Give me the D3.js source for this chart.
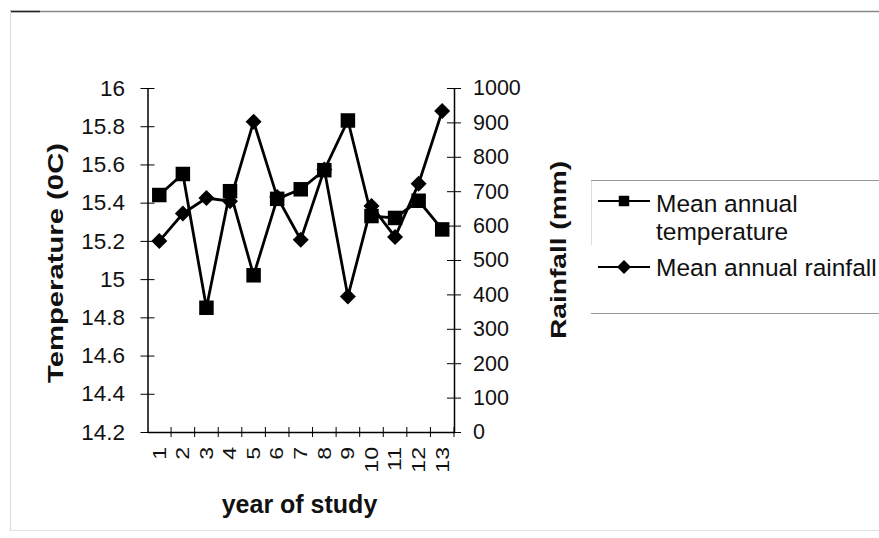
<!DOCTYPE html>
<html>
<head>
<meta charset="utf-8">
<script src="https://cdn.jsdelivr.net/npm/d3@7/dist/d3.min.js"></script>
<style>
  html, body { margin: 0; padding: 0; background: #fff; }
  svg { display: block; font-family: Arial, "Liberation Sans", sans-serif; }
</style>
</head>
<body>
<svg id="chart" width="879" height="538"></svg>
<script>
// Years of study
const years = [1, 2, 3, 4, 5, 6, 7, 8, 9, 10, 11, 12, 13];
// Mean annual temperature (°C)
const temperature = [15.44, 15.55, 14.85, 15.46, 15.02, 15.42, 15.47, 15.57, 15.83, 15.33, 15.32, 15.41, 15.26];
// Mean annual rainfall (mm)
const rainfall = [555, 635, 680, 671, 902, 683, 559, 763, 394, 657, 567, 722, 933];
// Axis ticks
const tempTicks = [14.2, 14.4, 14.6, 14.8, 15, 15.2, 15.4, 15.6, 15.8, 16];
const rainTicks = [0, 100, 200, 300, 400, 500, 600, 700, 800, 900, 1000];

const svg = d3.select("#chart");
const plot = { left: 147.5, right: 454, top: 88, bottom: 432 };
const ink = "#111";

// Outer chart frame (partially visible edges)
svg.append("line").attr("x1", 10).attr("x2", 879).attr("y1", 11.5).attr("y2", 11.5)
  .attr("stroke", "#8a8a8a").attr("stroke-width", 1.5);
svg.append("line").attr("x1", 10).attr("x2", 40).attr("y1", 11.5).attr("y2", 11.5)
  .attr("stroke", "#222").attr("stroke-width", 1.5);
svg.append("line").attr("x1", 10.5).attr("x2", 10.5).attr("y1", 11).attr("y2", 530)
  .attr("stroke", "#d8d8d8").attr("stroke-width", 1);
svg.append("line").attr("x1", 10).attr("x2", 879).attr("y1", 530.5).attr("y2", 530.5)
  .attr("stroke", "#e2e2e2").attr("stroke-width", 1);

const x = d3.scaleBand().domain(years).range([plot.left, plot.right]);
const yT = d3.scaleLinear().domain([14.2, 16]).range([plot.bottom, plot.top]);
const yR = d3.scaleLinear().domain([0, 1000]).range([plot.bottom, plot.top]);
const cx = d => x(d) + x.bandwidth() / 2;

// Left axis (temperature)
const leftAxis = d3.axisLeft(yT).tickValues(tempTicks).tickFormat(d3.format("")).tickSizeInner(7).tickSizeOuter(0).tickPadding(15.5);
const gl = svg.append("g").attr("transform", `translate(${plot.left},0)`).call(leftAxis);
gl.selectAll(".tick line").attr("x1", -7).attr("x2", 7);
gl.select(".domain").attr("stroke-width", 1.5);
gl.selectAll("text").attr("font-size", 22.5).attr("fill", ink).attr("font-family", "Arial, 'Liberation Sans', sans-serif");

// Right axis (rainfall)
const rightAxis = d3.axisRight(yR).tickValues(rainTicks).tickFormat(d3.format("")).tickSizeInner(7).tickSizeOuter(0).tickPadding(12);
const gr = svg.append("g").attr("transform", `translate(${plot.right},0)`).call(rightAxis);
gr.selectAll(".tick line").attr("x1", -7).attr("x2", 7);
gr.select(".domain").attr("stroke-width", 1.5);
gr.selectAll("text").attr("font-size", 21.5).attr("fill", ink).attr("font-family", "Arial, 'Liberation Sans', sans-serif");

// Bottom axis (years), labels rotated to read upward
const bottomAxis = d3.axisBottom(x).tickSize(0).tickPadding(0);
const gb = svg.append("g").attr("transform", `translate(0,${plot.bottom})`).call(bottomAxis);
gb.select(".domain").attr("stroke-width", 1.5);
gb.selectAll(".tick text")
  .attr("font-size", 17.5).attr("fill", ink).attr("font-family", "Arial, 'Liberation Sans', sans-serif")
  .attr("text-anchor", "end")
  .attr("x", 0).attr("y", 0).attr("dy", "0.36em")
  .attr("transform", "translate(0,15) rotate(-90) scale(1.32,1)");
// category boundary tick marks
const bounds = d3.range(1, years.length + 1).map(i => plot.left + x.bandwidth() * i);
gb.selectAll(".sep").data(bounds).enter().append("line")
  .attr("x1", d => d).attr("x2", d => d)
  .attr("y1", -5).attr("y2", 5).attr("stroke", "#000");

// Axis titles
svg.append("text").attr("transform", `translate(63,263) rotate(-90)`)
  .attr("text-anchor", "middle").attr("font-size", 22).attr("font-weight", "bold").attr("fill", ink)
  .attr("textLength", 240).attr("lengthAdjust", "spacingAndGlyphs")
  .text("Temperature (0C)");
svg.append("text").attr("transform", `translate(566,250) rotate(-90)`)
  .attr("text-anchor", "middle").attr("font-size", 22).attr("font-weight", "bold").attr("fill", ink)
  .attr("textLength", 178).attr("lengthAdjust", "spacingAndGlyphs")
  .text("Rainfall (mm)");
svg.append("text").attr("x", 299.5).attr("y", 513)
  .attr("text-anchor", "middle").attr("font-size", 25).attr("font-weight", "bold").attr("fill", ink)
  .text("year of study");

// Series lines
const lineT = d3.line().x((d, i) => cx(years[i])).y(d => yT(d));
const lineR = d3.line().x((d, i) => cx(years[i])).y(d => yR(d));
svg.append("path").attr("d", lineR(rainfall)).attr("fill", "none").attr("stroke", "#000").attr("stroke-width", 2.8);
svg.append("path").attr("d", lineT(temperature)).attr("fill", "none").attr("stroke", "#000").attr("stroke-width", 2.8);

const square = d3.symbol().type(d3.symbolSquare).size(210);
const diamond = (s) => `M0,${-s}L${s},0L0,${s}L${-s},0Z`;

svg.selectAll(".rain").data(rainfall).enter().append("path")
  .attr("d", diamond(8))
  .attr("transform", (d, i) => `translate(${cx(years[i])},${yR(d)})`)
  .attr("fill", "#000");
svg.selectAll(".temp").data(temperature).enter().append("path")
  .attr("d", square)
  .attr("transform", (d, i) => `translate(${cx(years[i])},${yT(d)})`)
  .attr("fill", "#000");

// Legend
const lg = svg.append("g");
lg.append("line").attr("x1", 591).attr("x2", 879).attr("y1", 180.5).attr("y2", 180.5).attr("stroke", "#999").attr("stroke-width", 1);
lg.append("line").attr("x1", 591).attr("x2", 879).attr("y1", 313.5).attr("y2", 313.5).attr("stroke", "#999").attr("stroke-width", 1);
lg.append("line").attr("x1", 591.5).attr("x2", 591.5).attr("y1", 181).attr("y2", 245).attr("stroke", "#ddd").attr("stroke-width", 1);

lg.append("line").attr("x1", 598).attr("x2", 650).attr("y1", 201).attr("y2", 201).attr("stroke", "#000").attr("stroke-width", 2);
lg.append("path").attr("d", d3.symbol().type(d3.symbolSquare).size(110)).attr("transform", "translate(624,201)").attr("fill", "#000");
lg.append("line").attr("x1", 598).attr("x2", 650).attr("y1", 267).attr("y2", 267).attr("stroke", "#000").attr("stroke-width", 2);
lg.append("path").attr("d", diamond(7)).attr("transform", "translate(624,267)").attr("fill", "#000");

const legText = lg.append("text").attr("font-size", 24.5).attr("fill", ink);
legText.append("tspan").attr("x", 656).attr("y", 212).text("Mean annual");
legText.append("tspan").attr("x", 656).attr("y", 240).text("temperature");
lg.append("text").attr("x", 656).attr("y", 276).attr("font-size", 24.5).attr("fill", ink).text("Mean annual rainfall");
</script>
</body>
</html>
